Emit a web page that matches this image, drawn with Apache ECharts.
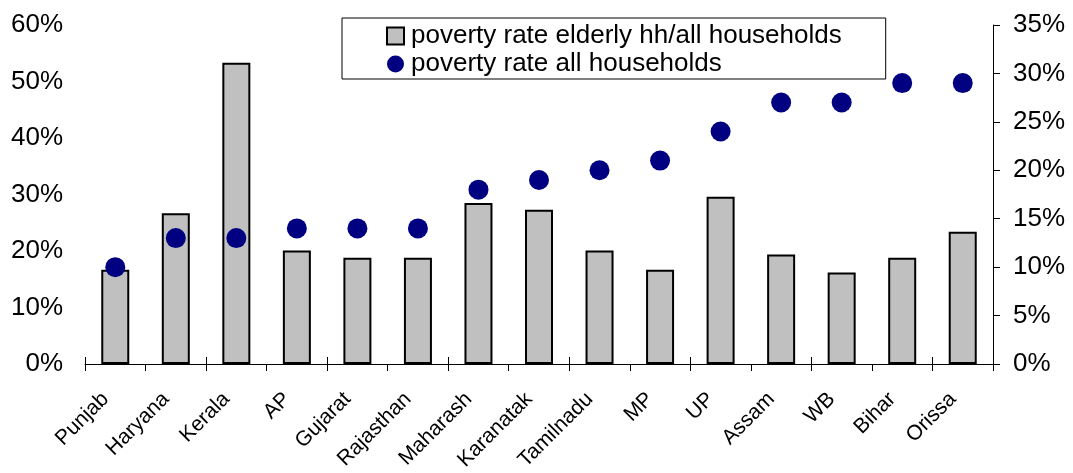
<!DOCTYPE html>
<html><head><meta charset="utf-8">
<script src="https://cdn.jsdelivr.net/npm/echarts@6/dist/echarts.min.js"></script>
<style>html,body{margin:0;padding:0;background:#fff}#c{width:1073px;height:473px}</style>
</head><body><div id="c"></div>
<script>
const categories = ['Punjab','Haryana','Kerala','AP','Gujarat','Rajasthan','Maharash','Karanatak','Tamilnadu','MP','UP','Assam','WB','Bihar','Orissa'];
const elderlyRatio = [16.7, 26.7, 53.3, 20.1, 18.8, 18.8, 28.5, 27.3, 20.1, 16.7, 29.6, 19.4, 16.2, 18.8, 23.4];
const povertyAll = [10, 13, 13, 14, 14, 14, 18, 19, 20, 21, 24, 27, 27, 29, 29];
const seriesNames = ['poverty rate elderly hh/all households', 'poverty rate all households'];

const font = 'Liberation Sans, Arial, sans-serif';
const chart = echarts.init(document.getElementById('c'), null, {renderer: 'canvas'});
chart.setOption({
  animation: false,
  backgroundColor: '#fff',
  textStyle: {fontFamily: font},
  grid: {left: 85, right: 80, top: 25, bottom: 109, containLabel: false, outerBoundsMode: 'none'},
  legend: {
    orient: 'vertical',
    left: 342, top: 18,
    padding: [4, 44, 1, 44],
    borderColor: '#000', borderWidth: 1,
    itemGap: 0, itemWidth: 17, itemHeight: 17,
    textStyle: {fontFamily: font, fontSize: 26, color: '#000', lineHeight: 28, padding: [0,0,0,2]},
    data: [
      {name: seriesNames[0], icon: 'rect', itemStyle: {color: '#c0c0c0', borderColor: '#000', borderWidth: 2}},
      {name: seriesNames[1], icon: 'circle', itemStyle: {color: '#000080', opacity: 1}}
    ]
  },
  xAxis: [
    {type: 'category', data: categories, boundaryGap: true, position: 'bottom',
     axisLine: {lineStyle: {color: '#000', width: 1}},
     axisTick: {show: true, length: 7, lineStyle: {color: '#000'}},
     axisLabel: {rotate: 45, fontSize: 21, color: '#000', fontFamily: font, margin: 22, interval: 0, padding: [0, 14, 0, 0]}},
    {type: 'category', data: categories, boundaryGap: true, position: 'bottom', offset: 0,
     axisLine: {show: false},
     axisTick: {show: true, inside: true, length: 7, lineStyle: {color: '#000'}},
     axisLabel: {show: false}}
  ],
  yAxis: [
    {type: 'value', min: 0, max: 60, interval: 10, position: 'left',
     axisLine: {show: false}, axisTick: {show: false}, splitLine: {show: false},
     axisLabel: {formatter: '{value}%', fontSize: 26, color: '#000', fontFamily: font, margin: 22}},
    {type: 'value', min: 0, max: 35, interval: 5, position: 'right',
     axisLine: {show: true, lineStyle: {color: '#000'}},
     axisTick: {show: true, length: 7, lineStyle: {color: '#000'}}, splitLine: {show: false},
     axisLabel: {formatter: '{value}%', fontSize: 26, color: '#000', fontFamily: font, margin: 20}}
  ],
  series: [
    {name: seriesNames[0], type: 'bar', xAxisIndex: 0, yAxisIndex: 0, data: elderlyRatio, barWidth: 28,
     itemStyle: {color: '#c0c0c0', borderColor: '#000', borderWidth: 2}},
    {name: seriesNames[1], type: 'scatter', xAxisIndex: 0, yAxisIndex: 1, data: povertyAll, symbol: 'circle', symbolSize: 20,
     itemStyle: {color: '#000080', opacity: 1}}
  ]
});
</script></body></html>
